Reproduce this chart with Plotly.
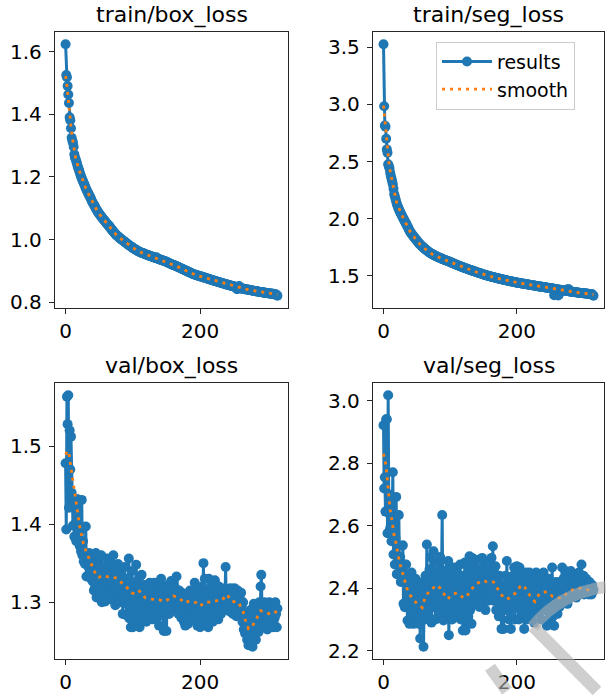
import plotly.graph_objects as go

# ---------------- data ----------------
train_box = [
    1.623, 1.525, 1.518, 1.490, 1.463, 1.436, 1.390, 1.381, 1.355, 1.325,
    1.315, 1.309, 1.296, 1.272, 1.262, 1.256, 1.249, 1.242, 1.233, 1.228,
    1.221, 1.214, 1.208, 1.201, 1.196, 1.190, 1.186, 1.180, 1.176, 1.170,
    1.164, 1.159, 1.155, 1.150, 1.146, 1.142, 1.137, 1.134, 1.129, 1.123,
    1.119, 1.115, 1.111, 1.108, 1.104, 1.099, 1.096, 1.092, 1.088, 1.086,
    1.082, 1.080, 1.077, 1.073, 1.071, 1.068, 1.065, 1.063, 1.060, 1.058,
    1.055, 1.052, 1.050, 1.047, 1.045, 1.043, 1.039, 1.037, 1.033, 1.031,
    1.028, 1.026, 1.023, 1.021, 1.018, 1.016, 1.013, 1.012, 1.010, 1.008,
    1.006, 1.004, 1.003, 1.001, 0.999, 0.998, 0.996, 0.994, 0.993, 0.991,
    0.989, 0.988, 0.986, 0.984, 0.983, 0.981, 0.980, 0.978, 0.977, 0.975,
    0.974, 0.972, 0.971, 0.970, 0.968, 0.967, 0.966, 0.964, 0.963, 0.962,
    0.961, 0.960, 0.959, 0.958, 0.957, 0.957, 0.956, 0.955, 0.954, 0.953,
    0.952, 0.952, 0.951, 0.950, 0.949, 0.948, 0.948, 0.947, 0.946, 0.945,
    0.944, 0.944, 0.943, 0.942, 0.941, 0.944, 0.940, 0.939, 0.938, 0.938,
    0.937, 0.936, 0.935, 0.935, 0.934, 0.933, 0.932, 0.932, 0.931, 0.930,
    0.929, 0.928, 0.927, 0.926, 0.925, 0.924, 0.923, 0.922, 0.921, 0.920,
    0.919, 0.918, 0.918, 0.917, 0.916, 0.915, 0.914, 0.913, 0.912, 0.911,
    0.910, 0.909, 0.908, 0.907, 0.906, 0.905, 0.904, 0.903, 0.902, 0.901,
    0.900, 0.899, 0.898, 0.897, 0.896, 0.895, 0.894, 0.893, 0.892, 0.891,
    0.890, 0.889, 0.889, 0.888, 0.887, 0.886, 0.886, 0.885, 0.884, 0.884,
    0.883, 0.882, 0.882, 0.881, 0.880, 0.880, 0.879, 0.878, 0.878, 0.877,
    0.876, 0.876, 0.875, 0.874, 0.874, 0.873, 0.872, 0.872, 0.871, 0.870,
    0.870, 0.869, 0.868, 0.868, 0.867, 0.866, 0.866, 0.865, 0.864, 0.864,
    0.863, 0.862, 0.862, 0.861, 0.860, 0.860, 0.859, 0.858, 0.858, 0.857,
    0.857, 0.856, 0.856, 0.855, 0.854, 0.854, 0.853, 0.853, 0.852, 0.851,
    0.851, 0.850, 0.850, 0.849, 0.848, 0.842, 0.847, 0.847, 0.852, 0.845,
    0.845, 0.844, 0.844, 0.844, 0.843, 0.843, 0.842, 0.842, 0.842, 0.841,
    0.841, 0.840, 0.840, 0.840, 0.839, 0.839, 0.838, 0.838, 0.838, 0.837,
    0.837, 0.836, 0.836, 0.836, 0.835, 0.835, 0.834, 0.834, 0.834, 0.833,
    0.833, 0.833, 0.832, 0.832, 0.831, 0.831, 0.831, 0.830, 0.830, 0.830,
    0.829, 0.829, 0.829, 0.828, 0.828, 0.828, 0.827, 0.827, 0.827, 0.827,
    0.826, 0.826, 0.826, 0.825, 0.823, 0.821,
]

train_seg = [
    3.526, 2.983, 2.815, 2.805, 2.700, 2.606, 2.577, 2.476, 2.458, 2.440,
    2.402, 2.374, 2.350, 2.326, 2.300, 2.262, 2.216, 2.196, 2.172, 2.150,
    2.128, 2.112, 2.098, 2.083, 2.070, 2.057, 2.045, 2.033, 2.021, 2.010,
    1.998, 1.987, 1.976, 1.965, 1.954, 1.943, 1.932, 1.921, 1.908, 1.895,
    1.886, 1.877, 1.869, 1.861, 1.853, 1.845, 1.837, 1.830, 1.822, 1.815,
    1.808, 1.801, 1.794, 1.786, 1.779, 1.773, 1.767, 1.762, 1.756, 1.751,
    1.746, 1.741, 1.736, 1.731, 1.726, 1.721, 1.717, 1.712, 1.708, 1.704,
    1.700, 1.696, 1.693, 1.690, 1.686, 1.683, 1.680, 1.677, 1.674, 1.671,
    1.668, 1.665, 1.662, 1.660, 1.657, 1.655, 1.652, 1.650, 1.648, 1.645,
    1.643, 1.641, 1.638, 1.636, 1.634, 1.632, 1.629, 1.627, 1.625, 1.622,
    1.620, 1.617, 1.615, 1.612, 1.610, 1.607, 1.605, 1.602, 1.600, 1.597,
    1.595, 1.592, 1.590, 1.588, 1.585, 1.583, 1.581, 1.578, 1.576, 1.574,
    1.572, 1.569, 1.567, 1.565, 1.563, 1.561, 1.559, 1.557, 1.555, 1.553,
    1.551, 1.549, 1.547, 1.545, 1.543, 1.541, 1.539, 1.537, 1.535, 1.533,
    1.531, 1.529, 1.527, 1.525, 1.523, 1.521, 1.519, 1.517, 1.515, 1.513,
    1.511, 1.509, 1.508, 1.506, 1.504, 1.503, 1.501, 1.499, 1.498, 1.496,
    1.494, 1.493, 1.491, 1.490, 1.488, 1.487, 1.485, 1.484, 1.482, 1.481,
    1.479, 1.478, 1.476, 1.475, 1.473, 1.472, 1.471, 1.469, 1.468, 1.467,
    1.465, 1.464, 1.463, 1.461, 1.460, 1.459, 1.457, 1.456, 1.455, 1.454,
    1.452, 1.451, 1.450, 1.449, 1.447, 1.446, 1.445, 1.444, 1.443, 1.441,
    1.440, 1.439, 1.438, 1.437, 1.436, 1.435, 1.434, 1.433, 1.432, 1.431,
    1.430, 1.429, 1.428, 1.427, 1.426, 1.425, 1.424, 1.423, 1.422, 1.421,
    1.420, 1.419, 1.418, 1.417, 1.416, 1.415, 1.414, 1.413, 1.412, 1.411,
    1.410, 1.409, 1.408, 1.407, 1.406, 1.405, 1.404, 1.403, 1.403, 1.402,
    1.401, 1.400, 1.399, 1.398, 1.397, 1.396, 1.395, 1.394, 1.393, 1.393,
    1.392, 1.391, 1.390, 1.389, 1.388, 1.387, 1.330, 1.345, 1.384, 1.383,
    1.382, 1.381, 1.328, 1.335, 1.378, 1.377, 1.376, 1.375, 1.374, 1.373,
    1.372, 1.371, 1.370, 1.369, 1.368, 1.367, 1.366, 1.385, 1.364, 1.363,
    1.362, 1.361, 1.360, 1.360, 1.359, 1.358, 1.357, 1.356, 1.355, 1.355,
    1.354, 1.353, 1.352, 1.352, 1.351, 1.350, 1.349, 1.349, 1.348, 1.347,
    1.347, 1.346, 1.345, 1.345, 1.344, 1.343, 1.343, 1.342, 1.341, 1.341,
    1.340, 1.340, 1.339, 1.338, 1.330, 1.325,
]

val_box = [
    1.478, 1.393, 1.563, 1.528, 1.565, 1.421, 1.520, 1.470, 1.512, 1.440,
    1.433, 1.398, 1.430, 1.384, 1.428, 1.401, 1.378, 1.432, 1.395, 1.385,
    1.430, 1.372, 1.392, 1.365, 1.431, 1.360, 1.378, 1.352, 1.362, 1.349,
    1.397, 1.333, 1.362, 1.358, 1.345, 1.363, 1.335, 1.349, 1.330, 1.356,
    1.327, 1.361, 1.315, 1.344, 1.320, 1.363, 1.306, 1.340, 1.325, 1.352,
    1.310, 1.347, 1.318, 1.360, 1.300, 1.338, 1.322, 1.315, 1.345, 1.301,
    1.341, 1.327, 1.356, 1.312, 1.335, 1.309, 1.350, 1.320, 1.328, 1.340,
    1.303, 1.360, 1.318, 1.331, 1.296, 1.345, 1.322, 1.308, 1.349, 1.315,
    1.327, 1.300, 1.342, 1.312, 1.333, 1.285, 1.325, 1.310, 1.345, 1.298,
    1.318, 1.283, 1.330, 1.302, 1.356, 1.279, 1.320, 1.268, 1.310, 1.340,
    1.268, 1.305, 1.290, 1.325, 1.270, 1.348, 1.296, 1.312, 1.275, 1.330,
    1.268, 1.318, 1.290, 1.335, 1.280, 1.315, 1.298, 1.322, 1.285, 1.307,
    1.275, 1.320, 1.295, 1.312, 1.282, 1.325, 1.300, 1.290, 1.318, 1.278,
    1.310, 1.295, 1.325, 1.285, 1.305, 1.278, 1.320, 1.300, 1.315, 1.270,
    1.308, 1.290, 1.330, 1.283, 1.312, 1.296, 1.263, 1.320, 1.288, 1.305,
    1.263, 1.310, 1.295, 1.322, 1.285, 1.316, 1.302, 1.327, 1.290, 1.312,
    1.300, 1.325, 1.292, 1.318, 1.305, 1.333, 1.296, 1.310, 1.285, 1.315,
    1.298, 1.305, 1.280, 1.312, 1.290, 1.300, 1.275, 1.305, 1.270, 1.298,
    1.285, 1.310, 1.272, 1.300, 1.290, 1.315, 1.280, 1.295, 1.305, 1.278,
    1.300, 1.288, 1.325, 1.282, 1.305, 1.295, 1.270, 1.315, 1.290, 1.300,
    1.268, 1.310, 1.285, 1.320, 1.295, 1.350, 1.280, 1.330, 1.272, 1.315,
    1.290, 1.305, 1.268, 1.330, 1.295, 1.312, 1.285, 1.322, 1.300, 1.275,
    1.310, 1.292, 1.328, 1.288, 1.315, 1.298, 1.305, 1.278, 1.320, 1.295,
    1.302, 1.285, 1.318, 1.300, 1.290, 1.312, 1.295, 1.305, 1.345, 1.298,
    1.315, 1.292, 1.310, 1.300, 1.288, 1.318, 1.305, 1.295, 1.312, 1.285,
    1.300, 1.318, 1.290, 1.310, 1.282, 1.298, 1.315, 1.300, 1.285, 1.305,
    1.290, 1.312, 1.295, 1.275, 1.300, 1.265, 1.285, 1.260, 1.280, 1.270,
    1.252, 1.275, 1.245, 1.268, 1.262, 1.290, 1.248, 1.280, 1.243, 1.265,
    1.298, 1.270, 1.285, 1.252, 1.295, 1.275, 1.290, 1.262, 1.300, 1.282,
    1.320, 1.335, 1.298, 1.275, 1.290, 1.268, 1.300, 1.285, 1.270, 1.295,
    1.265, 1.292, 1.280, 1.300, 1.270, 1.295, 1.285, 1.275, 1.298, 1.268,
    1.290, 1.280, 1.300, 1.285, 1.268, 1.292,
]

val_seg = [
    2.921, 2.719, 2.755, 2.645, 2.940, 2.940, 2.576, 3.017, 2.640, 2.700,
    2.592, 2.690, 2.550, 2.620, 2.771, 2.508, 2.600, 2.476, 2.560, 2.692,
    2.445, 2.540, 2.476, 2.634, 2.470, 2.500, 2.420, 2.470, 2.440, 2.537,
    2.350, 2.476, 2.339, 2.420, 2.476, 2.380, 2.297, 2.430, 2.360, 2.286,
    2.400, 2.330, 2.450, 2.310, 2.372, 2.286, 2.400, 2.340, 2.430, 2.300,
    2.380, 2.320, 2.410, 2.286, 2.360, 2.239, 2.390, 2.330, 2.300, 2.420,
    2.213, 2.350, 2.300, 2.440, 2.320, 2.540, 2.380, 2.420, 2.310, 2.460,
    2.350, 2.499, 2.290, 2.430, 2.390, 2.518, 2.340, 2.410, 2.300, 2.450,
    2.360, 2.480, 2.330, 2.420, 2.380, 2.500, 2.320, 2.440, 2.634, 2.370,
    2.297, 2.410, 2.380, 2.350, 2.430, 2.320, 2.460, 2.487, 2.250, 2.400,
    2.340, 2.440, 2.380, 2.300, 2.420, 2.360, 2.466, 2.330, 2.400, 2.350,
    2.445, 2.310, 2.390, 2.420, 2.340, 2.476, 2.300, 2.380, 2.440, 2.265,
    2.400, 2.350, 2.482, 2.265, 2.420, 2.340, 2.470, 2.310, 2.390, 2.502,
    2.330, 2.450, 2.286, 2.497, 2.380, 2.420, 2.350, 2.470, 2.400, 2.440,
    2.360, 2.490, 2.380, 2.430, 2.340, 2.460, 2.410, 2.380, 2.497, 2.350,
    2.440, 2.390, 2.470, 2.330, 2.450, 2.400, 2.420, 2.360, 2.480, 2.400,
    2.440, 2.380, 2.497, 2.420, 2.534, 2.360, 2.450, 2.390, 2.470, 2.330,
    2.420, 2.360, 2.400, 2.310, 2.440, 2.360, 2.380, 2.270, 2.410, 2.340,
    2.270, 2.400, 2.360, 2.440, 2.330, 2.487, 2.350, 2.400, 2.300, 2.420,
    2.380, 2.270, 2.410, 2.330, 2.440, 2.360, 2.466, 2.300, 2.420, 2.380,
    2.470, 2.340, 2.430, 2.300, 2.466, 2.360, 2.400, 2.320, 2.440, 2.350,
    2.420, 2.270, 2.390, 2.340, 2.450, 2.300, 2.380, 2.420, 2.330, 2.450,
    2.360, 2.400, 2.310, 2.430, 2.350, 2.390, 2.290, 2.420, 2.370, 2.450,
    2.340, 2.400, 2.380, 2.320, 2.440, 2.360, 2.400, 2.300, 2.420, 2.370,
    2.450, 2.330, 2.390, 2.410, 2.350, 2.280, 2.400, 2.360, 2.430, 2.300,
    2.380, 2.420, 2.340, 2.466, 2.310, 2.400, 2.280, 2.370, 2.330, 2.420,
    2.360, 2.318, 2.400, 2.380, 2.340, 2.420, 2.350, 2.400, 2.466, 2.380,
    2.430, 2.360, 2.410, 2.455, 2.380, 2.420, 2.350, 2.450, 2.400, 2.440,
    2.370, 2.455, 2.410, 2.390, 2.440, 2.380, 2.420, 2.400, 2.445, 2.370,
    2.430, 2.390, 2.410, 2.450, 2.380, 2.420, 2.400, 2.476, 2.390, 2.410,
    2.440, 2.380, 2.420, 2.400, 2.430, 2.390, 2.410, 2.413, 2.380, 2.420,
    2.392, 2.400, 2.380, 2.410, 2.390, 2.395,
]

# smoothed curves (orange dotted), read at selected epochs
train_box_smooth_ep = [0, 1, 2, 3, 4, 5, 6, 8, 10, 12, 15, 20, 25, 30, 35, 40, 45, 50, 55, 60,
                       65, 70, 75, 80, 85, 90, 95, 100, 105, 110, 115, 120, 125, 130, 135, 140,
                       145, 150, 155, 160, 165, 170, 175, 180, 185, 190, 195, 200, 205, 210, 215,
                       220, 225, 230, 235, 240, 245, 250, 255, 260, 265, 270, 275, 280, 285, 290,
                       295, 300, 305, 310, 315]
train_box_smooth = [1.522, 1.51, 1.49, 1.47, 1.445, 1.42, 1.40, 1.36, 1.325, 1.30, 1.26, 1.222,
                    1.19, 1.164, 1.142, 1.119, 1.10, 1.082, 1.068, 1.055, 1.042, 1.028, 1.016,
                    1.006, 0.998, 0.989, 0.981, 0.974, 0.967, 0.961, 0.957, 0.952, 0.948, 0.944,
                    0.941, 0.937, 0.933, 0.929, 0.924, 0.919, 0.915, 0.910, 0.905, 0.900, 0.895,
                    0.890, 0.886, 0.883, 0.880, 0.876, 0.873, 0.870, 0.866, 0.863, 0.860, 0.857,
                    0.854, 0.851, 0.848, 0.845, 0.843, 0.841, 0.839, 0.837, 0.835, 0.833, 0.831,
                    0.829, 0.828, 0.826, 0.825]

train_seg_smooth_ep = train_box_smooth_ep
train_seg_smooth = [2.99, 2.92, 2.84, 2.77, 2.70, 2.64, 2.59, 2.50, 2.42, 2.35, 2.27, 2.135,
                    2.065, 2.0, 1.943, 1.886, 1.845, 1.808, 1.773, 1.746, 1.721, 1.70, 1.683,
                    1.668, 1.655, 1.643, 1.632, 1.62, 1.607, 1.595, 1.583, 1.572, 1.561, 1.551,
                    1.541, 1.531, 1.521, 1.511, 1.503, 1.494, 1.487, 1.479, 1.472, 1.465, 1.459,
                    1.452, 1.446, 1.44, 1.435, 1.43, 1.425, 1.42, 1.415, 1.41, 1.405, 1.401,
                    1.396, 1.392, 1.385, 1.380, 1.377, 1.372, 1.367, 1.362, 1.358, 1.354, 1.35,
                    1.347, 1.343, 1.34, 1.336]

val_box_smooth_ep = [0, 3, 5, 7, 9, 11, 13, 15, 17, 19, 21, 24, 27, 31, 36, 41, 46, 50, 54, 60,
                     67, 76, 82, 90, 98, 105, 110, 118, 128, 139, 148, 155, 160, 168, 177, 185,
                     195, 200, 207, 215, 225, 232, 240, 247, 257, 264, 267, 272, 277, 284, 290,
                     297, 305, 310, 315]
val_box_smooth = [1.489, 1.494, 1.49, 1.478, 1.465, 1.452, 1.44, 1.43, 1.42, 1.408, 1.397,
                  1.385, 1.373, 1.364, 1.353, 1.343, 1.333, 1.332, 1.334, 1.333, 1.332, 1.331,
                  1.326, 1.32, 1.312, 1.31, 1.314, 1.306, 1.304, 1.303, 1.301, 1.305, 1.308,
                  1.306, 1.299, 1.302, 1.299, 1.295, 1.300, 1.30, 1.302, 1.302, 1.31, 1.301,
                  1.30, 1.288, 1.278, 1.266, 1.268, 1.279, 1.289, 1.288, 1.284, 1.286, 1.289]

val_seg_smooth_ep = [0, 1, 4, 5, 6, 8, 9, 10, 12, 14, 16, 19, 21, 24, 28, 31, 35, 40, 45, 49,
                     55, 58, 62, 68, 74, 80, 85, 90, 96, 103, 110, 115, 120, 125, 130, 135, 140,
                     145, 150, 155, 160, 165, 170, 175, 180, 185, 190, 195, 200, 205, 210, 215,
                     220, 227, 234, 245, 254, 260, 267, 273, 279, 289, 299, 306, 311, 315]
val_seg_smooth = [2.83, 2.821, 2.79, 2.764, 2.735, 2.709, 2.68, 2.651, 2.626, 2.596, 2.568,
                  2.541, 2.515, 2.483, 2.454, 2.429, 2.40, 2.378, 2.362, 2.354, 2.343, 2.338,
                  2.368, 2.389, 2.40, 2.41, 2.40, 2.383, 2.365, 2.38, 2.385, 2.378, 2.368,
                  2.375, 2.39, 2.405, 2.415, 2.42, 2.425, 2.42, 2.418, 2.42, 2.40, 2.385, 2.37,
                  2.365, 2.37, 2.378, 2.39, 2.405, 2.41, 2.39, 2.375, 2.357, 2.383, 2.389,
                  2.373, 2.37, 2.368, 2.38, 2.39, 2.40, 2.40, 2.395, 2.39, 2.388]

titles = ["train/box_loss", "train/seg_loss", "val/box_loss", "val/seg_loss"]
x_ticks = [0, 200]
y_ticks = [[0.8, 1.0, 1.2, 1.4, 1.6], [1.5, 2.0, 2.5, 3.0, 3.5],
           [1.3, 1.4, 1.5], [2.2, 2.4, 2.6, 2.8, 3.0]]

# ---------------- layout helpers ----------------
W, H = 606, 697
BLUE, ORANGE = "#1f77b4", "#ff7f0e"
FONT = "DejaVu Sans"
TICK_SIZE = 20

series = [
    (train_box, train_box_smooth_ep, train_box_smooth),
    (train_seg, train_seg_smooth_ep, train_seg_smooth),
    (val_box, val_box_smooth_ep, val_box_smooth),
    (val_seg, val_seg_smooth_ep, val_seg_smooth),
]
# pixel boxes of each axes: (left, right, top, bottom)
boxes = [(55, 288, 32, 311), (373, 604, 32, 311), (55, 288, 386, 665), (373, 604, 386, 665)]
title_y = [15, 369]

fig = go.Figure()
layout = dict(
    width=W, height=H, autosize=False,
    margin=dict(l=0, r=0, t=0, b=0, pad=0),
    paper_bgcolor="white", plot_bgcolor="white",
    font=dict(family=FONT, size=TICK_SIZE, color="black"),
    showlegend=True,
    legend=dict(x=436 / W, xanchor="left", y=1 - 42 / H, yanchor="top",
                bgcolor="rgba(255,255,255,0.8)", bordercolor="#cccccc", borderwidth=1,
                font=dict(family=FONT, size=19, color="black"),
                tracegroupgap=0, itemwidth=50),
    annotations=[],
    shapes=[],
)

for i, (res, sep, sm) in enumerate(series):
    k = "" if i == 0 else str(i + 1)
    xa, ya = "x" + k, "y" + k
    ep = list(range(len(res)))
    n = len(res) - 1
    lo, hi = min(res), max(res)
    span = hi - lo
    fig.add_trace(go.Scatter(
        x=ep, y=res, mode="lines+markers", name="results",
        line=dict(color=BLUE, width=3), marker=dict(color=BLUE, size=10),
        xaxis=xa, yaxis=ya, showlegend=(i == 1), legendrank=1))
    fig.add_trace(go.Scatter(
        x=sep, y=sm, mode="lines", name="smooth",
        line=dict(color=ORANGE, width=2.8, dash="3px,5px"),
        xaxis=xa, yaxis=ya, showlegend=(i == 1), legendrank=2))
    l, r, t, b = boxes[i]
    axis_common = dict(showline=True, mirror=True, linecolor="#262626", linewidth=1.3,
                       ticks="outside", ticklen=5, tickwidth=1.3, tickcolor="#262626",
                       showgrid=False, zeroline=False,
                       tickfont=dict(family=FONT, size=TICK_SIZE, color="black"))
    layout["xaxis" + k] = dict(domain=[l / W, r / W], anchor=ya,
                               range=[-0.05 * n, n * 1.05], tickvals=x_ticks,
                               **axis_common)
    layout["yaxis" + k] = dict(domain=[1 - b / H, 1 - t / H], anchor=xa,
                               range=[lo - 0.05 * span, hi + 0.05 * span],
                               tickvals=y_ticks[i], tickformat=".1f",
                               ticklabelstandoff=3, **axis_common)
    layout["annotations"].append(dict(
        text=titles[i], x=(l + r) / 2 / W, y=1 - title_y[i // 2] / H,
        xref="paper", yref="paper", xanchor="center", yanchor="middle",
        showarrow=False, font=dict(family=FONT, size=22, color="black")))

# faint grey watermark strokes in the lower-right corner of the reference picture
wm_paths = [
    [(490, 673), (507, 697)],
    [(533, 632), (597, 697)],
]
for pts in wm_paths:
    d = "M " + " L ".join(f"{x / W:.4f},{1 - y / H:.4f}" for x, y in pts)
    layout["shapes"].append(dict(type="path", path=d, xref="paper", yref="paper",
                                 line=dict(color="rgba(175,175,175,0.6)", width=12),
                                 layer="above"))
layout["shapes"].append(dict(
    type="path", xref="paper", yref="paper", layer="above",
    path=f"M {533 / W:.4f},{1 - 632 / H:.4f} Q {560 / W:.4f},{1 - 598 / H:.4f} {606 / W:.4f},{1 - 592 / H:.4f}",
    line=dict(color="rgba(175,175,175,0.6)", width=12)))

fig.update_layout(**layout)
# remove the browser's default 8px body margin so the figure sits at the page origin
fig.write_html("out.html",
               config={"displayModeBar": False},
               post_script="document.body.style.margin='0';document.body.style.overflow='hidden';")
